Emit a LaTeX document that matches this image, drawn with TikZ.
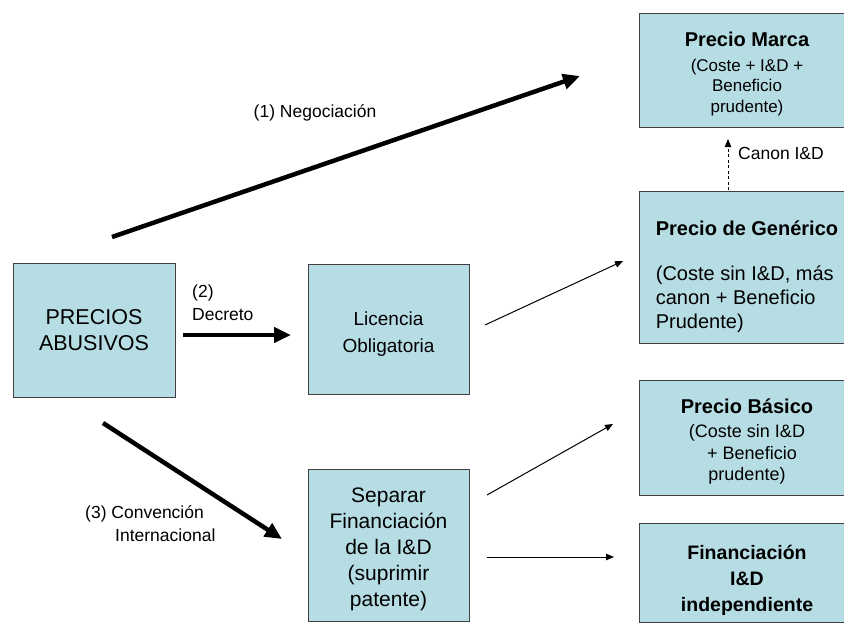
\documentclass[tikz,border=0pt]{standalone}
\usepackage{fontspec}
\setmainfont{Liberation Sans}
\usetikzlibrary{arrows.meta}
\definecolor{boxfill}{HTML}{B7DDE4}
\definecolor{boxline}{HTML}{404040}

\begin{document}
\begin{tikzpicture}[x=1pt, y=-1pt,
  main node/.style={draw=boxline, fill=boxfill, line width=1pt, align=center, inner sep=0pt},
  big arrow/.style={line width=4.5pt, -{Triangle[length=17pt,width=15pt]}},
  thin arrow/.style={line width=1pt, -{Triangle[length=8pt,width=6.5pt]}},
  lbl/.style={inner sep=0pt, font=\fontsize{17.5}{23}\selectfont}]
\useasboundingbox (0,0) rectangle (844,624);

% left and middle column
\node[main node, minimum width=162pt, minimum height=134pt, font=\fontsize{21.5}{26}\selectfont] (pa)  at (94,330)    {PRECIOS\\ABUSIVOS};
\node[main node, minimum width=161pt, minimum height=130pt, font=\fontsize{19}{27}\selectfont]   (lic) at (388.5,329) {\rule{0pt}{24pt}Licencia\\Obligatoria};
\node[main node, minimum width=161pt, minimum height=152pt, font=\fontsize{21}{26}\selectfont]   (sep) at (388.5,545) {\rule{0pt}{23pt}Separar\\Financiación\\de la I\&D\\(suprimir\\patente)};

% right column
\node[main node, minimum width=216pt, minimum height=114pt, font=\fontsize{17}{20.5}\selectfont] (marca) at (747,70)
  {\rule{0pt}{22.5pt}{\fontsize{20}{24}\bfseries Precio Marca}\\[4pt](Coste + I\&D +\\Beneficio\\prudente)};
\node[main node, minimum width=216pt, minimum height=152pt, align=left, font=\fontsize{20}{24}\selectfont] (gen) at (747,267)
  {\rule{0pt}{35pt}{\bfseries Precio de Genérico}\\[21pt](Coste sin I\&D, más\\canon + Beneficio\\Prudente)};
\node[main node, minimum width=216pt, minimum height=115pt, font=\fontsize{18}{21.5}\selectfont] (bas) at (747,437.5)
  {\rule{0pt}{23pt}{\fontsize{20}{24}\bfseries Precio Básico}\\[3pt](Coste sin I\&D\\\ \ + Beneficio\\prudente)};
\node[main node, minimum width=216pt, minimum height=99pt, font=\fontsize{19.5}{26}\selectfont\bfseries] (fin) at (747,572.5)
  {\rule{0pt}{30pt}Financiación\\I\&D\\independiente};

% arrow ends
\coordinate (n1a) at (112,237);
\coordinate (n1b) at (580,76);
\coordinate (n2a) at (183,335);
\coordinate (n2b) at (291,335);
\coordinate (n3a) at (103,423);
\coordinate (n3b) at (282,539);
\coordinate (ga) at (485,325);
\coordinate (gb) at (623,261);
\coordinate (ba) at (487,495);
\coordinate (bb) at (613,424);
\coordinate (fa) at (487,557);
\coordinate (fb) at (614,557);
\coordinate (ca) at (728,190);
\coordinate (cb) at (728,139);

\draw[big arrow] (n1a) -- (n1b);
\draw[big arrow] (n2a) -- (n2b);
\draw[big arrow] (n3a) -- (n3b);
\draw[thin arrow] (ga) -- (gb);
\draw[thin arrow] (ba) -- (bb);
\draw[thin arrow] (fa) -- (fb);
\draw[thin arrow, dash pattern=on 3pt off 2.5pt] (ca) -- (cb);

% labels
\node[lbl] (neg) at (315,113) {(1) Negociación};
\node[lbl, align=left, anchor=south west] (dec) at (192,321) {(2)\\Decreto};
\node[lbl, align=left, anchor=north west] (conv) at (85,505) {(3) Convención\\\hspace*{30pt}Internacional};
\node[lbl, anchor=west] (canon) at (738,153) {Canon I\&D};
\end{tikzpicture}
\end{document}
